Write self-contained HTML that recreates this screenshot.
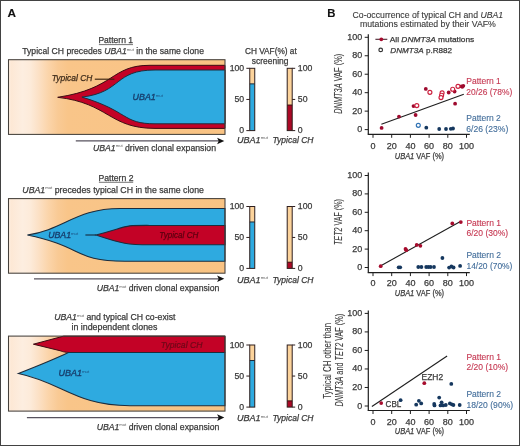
<!DOCTYPE html>
<html><head><meta charset="utf-8"><style>
html,body{margin:0;padding:0;background:#fff;width:520px;height:446px;overflow:hidden;}
svg{display:block;font-family:"Liberation Sans", sans-serif;will-change:transform;}
</style></head><body>
<svg width="520" height="446" viewBox="0 0 520 446">
<defs>
<linearGradient id="gA" gradientUnits="userSpaceOnUse" x1="8.5" y1="0" x2="225" y2="0">
<stop offset="0" stop-color="#fdf0e4"/>
<stop offset="0.012" stop-color="#fde8d5"/>
<stop offset="0.03" stop-color="#fdead9"/>
<stop offset="0.065" stop-color="#fdeee0"/>
<stop offset="0.10" stop-color="#fdebda"/>
<stop offset="0.138" stop-color="#fce1c6"/>
<stop offset="0.182" stop-color="#fbd5ab"/>
<stop offset="0.228" stop-color="#f9ca95"/>
<stop offset="0.275" stop-color="#f9c589"/>
<stop offset="1" stop-color="#f9c383"/>
</linearGradient>
</defs>
<rect x="0" y="0" width="520" height="446" fill="#fff"/>
<rect x="0.5" y="0.5" width="519" height="445" fill="none" stroke="#424242" stroke-width="1"/>
<text x="7.40" y="17.0" font-size="11.6" fill="#111" stroke="#111" stroke-width="0.1" font-style="normal" font-weight="bold" textLength="8.50" lengthAdjust="spacingAndGlyphs" >A</text>
<text x="98.45" y="43.3" font-size="8.6" fill="#3a3a3a" stroke="#3a3a3a" stroke-width="0.25" font-style="normal" font-weight="normal" textLength="34.60" lengthAdjust="spacingAndGlyphs" >Pattern 1</text>
<line x1="98.9" y1="44.6" x2="133" y2="44.6" stroke="#3a3a3a" stroke-width="0.7"/>
<text x="22.25" y="54.2" font-size="9.0" fill="#3a3a3a" stroke="#3a3a3a" stroke-width="0.25" font-style="normal" font-weight="normal" textLength="181.70" lengthAdjust="spacingAndGlyphs" >Typical CH precedes <tspan font-style="italic">UBA1</tspan><tspan font-size="4.4" dy="-3.6" stroke-width="0" opacity="0.85">mut</tspan><tspan dy="3.6"> in the same clone</tspan></text>
<rect x="8.5" y="59.7" width="216.5" height="74.7" fill="url(#gA)"/>
<path d="M57.7,97.3 C115.8,88.5 110.4,65.3 150,65.3 L225.0,65.3 L225.0,128.4 L155,128.4 C108.9,128.4 109.2,103.2 57.7,97.3 Z" fill="#c30226" stroke="#3c0c12" stroke-width="1.0"/>
<path d="M81.9,97.1 C122.6,92.2 113.7,70.0 155,70.0 L225.0,70.0 L225.0,123.8 L155,123.8 C122.2,123.8 128.8,111.1 81.9,97.1 Z" fill="#2eaae0" stroke="#1e2c3c" stroke-width="1.0"/>
<rect x="8.5" y="59.7" width="216.5" height="74.7" fill="none" stroke="#45403b" stroke-width="1.05"/>
<text x="51.75" y="81.2" font-size="8.7" fill="#3d2b1a" stroke="#3d2b1a" stroke-width="0.25" font-style="italic" font-weight="normal" textLength="40.60" lengthAdjust="spacingAndGlyphs" >Typical CH</text>
<line x1="94.8" y1="79.2" x2="114.4" y2="79.2" stroke="#3a2410" stroke-width="1.15"/>
<text x="132.55" y="100" font-size="8.6" fill="#173f6e" stroke="#173f6e" stroke-width="0.35" font-style="normal" font-weight="normal" textLength="30.40" lengthAdjust="spacingAndGlyphs" ><tspan font-style="italic">UBA1</tspan><tspan font-size="4.2" dy="-3.4" stroke-width="0" opacity="0.85">mut</tspan></text>
<line x1="75.8" y1="140.95" x2="219.3" y2="140.95" stroke="#57525e" stroke-width="1.3"/>
<path d="M217.10000000000002,137.64999999999998 L224.3,140.95 L217.10000000000002,144.25 L218.70000000000002,140.95 Z" fill="#111"/>
<text x="92.95" y="150.7" font-size="8.8" fill="#3a3a3a" stroke="#3a3a3a" stroke-width="0.25" font-style="normal" font-weight="normal" textLength="123.10" lengthAdjust="spacingAndGlyphs" ><tspan font-style="italic">UBA1</tspan><tspan font-size="4.2" dy="-3.4" stroke-width="0" opacity="0.85">mut</tspan><tspan dy="3.4"> driven clonal expansion</tspan></text>
<text x="244.95" y="53.6" font-size="8.8" fill="#3a3a3a" stroke="#3a3a3a" stroke-width="0.25" font-style="normal" font-weight="normal" textLength="51.80" lengthAdjust="spacingAndGlyphs" >CH VAF(%) at</text>
<text x="251.85" y="63.5" font-size="8.8" fill="#3a3a3a" stroke="#3a3a3a" stroke-width="0.25" font-style="normal" font-weight="normal" textLength="36.60" lengthAdjust="spacingAndGlyphs" >screening</text>
<rect x="249.75" y="68.3" width="5.0" height="62.3" fill="#fcd39b"/>
<rect x="249.75" y="83.875" width="5.0" height="46.724999999999994" fill="#2eaae0"/>
<line x1="249.75" y1="83.875" x2="254.75" y2="83.875" stroke="#1e2c3c" stroke-width="1.0"/>
<rect x="249.75" y="68.3" width="5.0" height="62.3" fill="none" stroke="#2e1e1e" stroke-width="1"/>
<line x1="246.35" y1="68.3" x2="249.75" y2="68.3" stroke="#2e1e1e" stroke-width="1"/>
<text x="244.15" y="70.90" font-size="8.7" text-anchor="end" fill="#3a3a3a" stroke="#3a3a3a" stroke-width="0.25" font-style="normal" font-weight="normal" >100</text>
<line x1="246.35" y1="99.44999999999999" x2="249.75" y2="99.44999999999999" stroke="#2e1e1e" stroke-width="1"/>
<text x="244.15" y="102.05" font-size="8.7" text-anchor="end" fill="#3a3a3a" stroke="#3a3a3a" stroke-width="0.25" font-style="normal" font-weight="normal" >50</text>
<line x1="246.35" y1="130.6" x2="249.75" y2="130.6" stroke="#2e1e1e" stroke-width="1"/>
<text x="244.15" y="133.20" font-size="8.7" text-anchor="end" fill="#3a3a3a" stroke="#3a3a3a" stroke-width="0.25" font-style="normal" font-weight="normal" >0</text>
<rect x="287.2" y="68.3" width="5.0" height="62.3" fill="#fcd39b"/>
<rect x="287.2" y="105.057" width="5.0" height="25.542999999999992" fill="#ab0826"/>
<line x1="287.2" y1="105.057" x2="292.2" y2="105.057" stroke="#3c0c12" stroke-width="1.0"/>
<rect x="287.2" y="68.3" width="5.0" height="62.3" fill="none" stroke="#2e1e1e" stroke-width="1"/>
<line x1="292.2" y1="68.3" x2="295.2" y2="68.3" stroke="#2e1e1e" stroke-width="1"/>
<text x="297.8" y="70.90" font-size="8.7" text-anchor="start" fill="#3a3a3a" stroke="#3a3a3a" stroke-width="0.25" font-style="normal" font-weight="normal" >100</text>
<line x1="292.2" y1="99.44999999999999" x2="295.2" y2="99.44999999999999" stroke="#2e1e1e" stroke-width="1"/>
<text x="297.8" y="102.05" font-size="8.7" text-anchor="start" fill="#3a3a3a" stroke="#3a3a3a" stroke-width="0.25" font-style="normal" font-weight="normal" >50</text>
<line x1="292.2" y1="130.6" x2="295.2" y2="130.6" stroke="#2e1e1e" stroke-width="1"/>
<text x="297.8" y="133.20" font-size="8.7" text-anchor="start" fill="#3a3a3a" stroke="#3a3a3a" stroke-width="0.25" font-style="normal" font-weight="normal" >0</text>
<text x="236.95" y="142.6" font-size="8.8" fill="#3a3a3a" stroke="#3a3a3a" stroke-width="0.25" font-style="normal" font-weight="normal" textLength="30.90" lengthAdjust="spacingAndGlyphs" ><tspan font-style="italic">UBA1</tspan><tspan font-size="4.2" dy="-3.4" stroke-width="0" opacity="0.85">mut</tspan></text>
<text x="272.45" y="142.6" font-size="8.8" fill="#3a3a3a" stroke="#3a3a3a" stroke-width="0.25" font-style="italic" font-weight="normal" textLength="41.10" lengthAdjust="spacingAndGlyphs" >Typical CH</text>
<rect x="249.75" y="206.5" width="5.0" height="61.89999999999998" fill="#fcd39b"/>
<rect x="249.75" y="221.975" width="5.0" height="46.42499999999998" fill="#2eaae0"/>
<line x1="249.75" y1="221.975" x2="254.75" y2="221.975" stroke="#1e2c3c" stroke-width="1.0"/>
<rect x="249.75" y="206.5" width="5.0" height="61.89999999999998" fill="none" stroke="#2e1e1e" stroke-width="1"/>
<line x1="246.35" y1="206.5" x2="249.75" y2="206.5" stroke="#2e1e1e" stroke-width="1"/>
<text x="244.15" y="209.10" font-size="8.7" text-anchor="end" fill="#3a3a3a" stroke="#3a3a3a" stroke-width="0.25" font-style="normal" font-weight="normal" >100</text>
<line x1="246.35" y1="237.45" x2="249.75" y2="237.45" stroke="#2e1e1e" stroke-width="1"/>
<text x="244.15" y="240.05" font-size="8.7" text-anchor="end" fill="#3a3a3a" stroke="#3a3a3a" stroke-width="0.25" font-style="normal" font-weight="normal" >50</text>
<line x1="246.35" y1="268.4" x2="249.75" y2="268.4" stroke="#2e1e1e" stroke-width="1"/>
<text x="244.15" y="271.00" font-size="8.7" text-anchor="end" fill="#3a3a3a" stroke="#3a3a3a" stroke-width="0.25" font-style="normal" font-weight="normal" >0</text>
<rect x="287.2" y="206.5" width="5.0" height="61.89999999999998" fill="#fcd39b"/>
<rect x="287.2" y="262.21" width="5.0" height="6.189999999999998" fill="#ab0826"/>
<line x1="287.2" y1="262.21" x2="292.2" y2="262.21" stroke="#3c0c12" stroke-width="1.0"/>
<rect x="287.2" y="206.5" width="5.0" height="61.89999999999998" fill="none" stroke="#2e1e1e" stroke-width="1"/>
<line x1="292.2" y1="206.5" x2="295.2" y2="206.5" stroke="#2e1e1e" stroke-width="1"/>
<text x="297.8" y="209.10" font-size="8.7" text-anchor="start" fill="#3a3a3a" stroke="#3a3a3a" stroke-width="0.25" font-style="normal" font-weight="normal" >100</text>
<line x1="292.2" y1="237.45" x2="295.2" y2="237.45" stroke="#2e1e1e" stroke-width="1"/>
<text x="297.8" y="240.05" font-size="8.7" text-anchor="start" fill="#3a3a3a" stroke="#3a3a3a" stroke-width="0.25" font-style="normal" font-weight="normal" >50</text>
<line x1="292.2" y1="268.4" x2="295.2" y2="268.4" stroke="#2e1e1e" stroke-width="1"/>
<text x="297.8" y="271.00" font-size="8.7" text-anchor="start" fill="#3a3a3a" stroke="#3a3a3a" stroke-width="0.25" font-style="normal" font-weight="normal" >0</text>
<text x="236.95" y="282.6" font-size="8.8" fill="#3a3a3a" stroke="#3a3a3a" stroke-width="0.25" font-style="normal" font-weight="normal" textLength="30.90" lengthAdjust="spacingAndGlyphs" ><tspan font-style="italic">UBA1</tspan><tspan font-size="4.2" dy="-3.4" stroke-width="0" opacity="0.85">mut</tspan></text>
<text x="272.45" y="282.6" font-size="8.8" fill="#3a3a3a" stroke="#3a3a3a" stroke-width="0.25" font-style="italic" font-weight="normal" textLength="41.10" lengthAdjust="spacingAndGlyphs" >Typical CH</text>
<rect x="249.75" y="345.0" width="5.0" height="62.10000000000002" fill="#fcd39b"/>
<rect x="249.75" y="360.525" width="5.0" height="46.575000000000045" fill="#2eaae0"/>
<line x1="249.75" y1="360.525" x2="254.75" y2="360.525" stroke="#1e2c3c" stroke-width="1.0"/>
<rect x="249.75" y="345.0" width="5.0" height="62.10000000000002" fill="none" stroke="#2e1e1e" stroke-width="1"/>
<line x1="246.35" y1="345.0" x2="249.75" y2="345.0" stroke="#2e1e1e" stroke-width="1"/>
<text x="244.15" y="347.60" font-size="8.7" text-anchor="end" fill="#3a3a3a" stroke="#3a3a3a" stroke-width="0.25" font-style="normal" font-weight="normal" >100</text>
<line x1="246.35" y1="376.05" x2="249.75" y2="376.05" stroke="#2e1e1e" stroke-width="1"/>
<text x="244.15" y="378.65" font-size="8.7" text-anchor="end" fill="#3a3a3a" stroke="#3a3a3a" stroke-width="0.25" font-style="normal" font-weight="normal" >50</text>
<line x1="246.35" y1="407.1" x2="249.75" y2="407.1" stroke="#2e1e1e" stroke-width="1"/>
<text x="244.15" y="409.70" font-size="8.7" text-anchor="end" fill="#3a3a3a" stroke="#3a3a3a" stroke-width="0.25" font-style="normal" font-weight="normal" >0</text>
<rect x="287.2" y="345.0" width="5.0" height="62.10000000000002" fill="#fcd39b"/>
<rect x="287.2" y="400.89000000000004" width="5.0" height="6.2099999999999795" fill="#ab0826"/>
<line x1="287.2" y1="400.89000000000004" x2="292.2" y2="400.89000000000004" stroke="#3c0c12" stroke-width="1.0"/>
<rect x="287.2" y="345.0" width="5.0" height="62.10000000000002" fill="none" stroke="#2e1e1e" stroke-width="1"/>
<line x1="292.2" y1="345.0" x2="295.2" y2="345.0" stroke="#2e1e1e" stroke-width="1"/>
<text x="297.8" y="347.60" font-size="8.7" text-anchor="start" fill="#3a3a3a" stroke="#3a3a3a" stroke-width="0.25" font-style="normal" font-weight="normal" >100</text>
<line x1="292.2" y1="376.05" x2="295.2" y2="376.05" stroke="#2e1e1e" stroke-width="1"/>
<text x="297.8" y="378.65" font-size="8.7" text-anchor="start" fill="#3a3a3a" stroke="#3a3a3a" stroke-width="0.25" font-style="normal" font-weight="normal" >50</text>
<line x1="292.2" y1="407.1" x2="295.2" y2="407.1" stroke="#2e1e1e" stroke-width="1"/>
<text x="297.8" y="409.70" font-size="8.7" text-anchor="start" fill="#3a3a3a" stroke="#3a3a3a" stroke-width="0.25" font-style="normal" font-weight="normal" >0</text>
<text x="236.95" y="421.4" font-size="8.8" fill="#3a3a3a" stroke="#3a3a3a" stroke-width="0.25" font-style="normal" font-weight="normal" textLength="30.90" lengthAdjust="spacingAndGlyphs" ><tspan font-style="italic">UBA1</tspan><tspan font-size="4.2" dy="-3.4" stroke-width="0" opacity="0.85">mut</tspan></text>
<text x="272.45" y="421.4" font-size="8.8" fill="#3a3a3a" stroke="#3a3a3a" stroke-width="0.25" font-style="italic" font-weight="normal" textLength="41.10" lengthAdjust="spacingAndGlyphs" >Typical CH</text>
<text x="98.45" y="181.1" font-size="8.6" fill="#3a3a3a" stroke="#3a3a3a" stroke-width="0.25" font-style="normal" font-weight="normal" textLength="35.00" lengthAdjust="spacingAndGlyphs" >Pattern 2</text>
<line x1="98.9" y1="182.3" x2="133.2" y2="182.3" stroke="#3a3a3a" stroke-width="0.7"/>
<text x="22.35" y="192.6" font-size="9.0" fill="#3a3a3a" stroke="#3a3a3a" stroke-width="0.25" font-style="normal" font-weight="normal" textLength="181.60" lengthAdjust="spacingAndGlyphs" ><tspan font-style="italic">UBA1</tspan><tspan font-size="4.4" dy="-3.6" stroke-width="0" opacity="0.85">mut</tspan><tspan dy="3.6"> precedes typical CH in the same clone</tspan></text>
<rect x="8.5" y="198.6" width="216.5" height="74.6" fill="url(#gA)"/>
<path d="M27.4,235.1 C64.4,229.3 76.0,208.5 120,208.5 L225.0,208.5 L225.0,261.3 L125,261.3 C73.7,261.3 84.2,246.9 27.4,235.1 Z" fill="#2eaae0" stroke="#1e2c3c" stroke-width="1.05"/>
<path d="M96,235.1 C132.9,225 121.8,225.4 150,225.4 L225.0,225.4 L225.0,244.8 L150,244.8 C128.6,244.8 122.0,244 96,235.1 Z" fill="#c30226" stroke="#1e2c3c" stroke-width="1.05"/>
<line x1="85.4" y1="235" x2="96" y2="235" stroke="#14283c" stroke-width="1.1"/>
<rect x="8.5" y="198.6" width="216.5" height="74.6" fill="none" stroke="#45403b" stroke-width="1.05"/>
<text x="48.15" y="237.9" font-size="8.6" fill="#173f6e" stroke="#173f6e" stroke-width="0.35" font-style="normal" font-weight="normal" textLength="30.00" lengthAdjust="spacingAndGlyphs" ><tspan font-style="italic">UBA1</tspan><tspan font-size="4.2" dy="-3.4" stroke-width="0" opacity="0.85">mut</tspan></text>
<text x="159.35" y="238.1" font-size="8.6" fill="#5c0010" stroke="#5c0010" stroke-width="0.25" font-style="italic" font-weight="normal" textLength="39.00" lengthAdjust="spacingAndGlyphs" >Typical CH</text>
<line x1="34.0" y1="278.8" x2="219.3" y2="278.8" stroke="#57525e" stroke-width="1.3"/>
<path d="M217.10000000000002,275.5 L224.3,278.8 L217.10000000000002,282.1 L218.70000000000002,278.8 Z" fill="#111"/>
<text x="96.65" y="291.4" font-size="8.8" fill="#3a3a3a" stroke="#3a3a3a" stroke-width="0.25" font-style="normal" font-weight="normal" textLength="122.80" lengthAdjust="spacingAndGlyphs" ><tspan font-style="italic">UBA1</tspan><tspan font-size="4.2" dy="-3.4" stroke-width="0" opacity="0.85">mut</tspan><tspan dy="3.4"> driven clonal expansion</tspan></text>
<text x="54.15" y="320.1" font-size="9.0" fill="#3a3a3a" stroke="#3a3a3a" stroke-width="0.25" font-style="normal" font-weight="normal" textLength="121.30" lengthAdjust="spacingAndGlyphs" ><tspan font-style="italic">UBA1</tspan><tspan font-size="4.4" dy="-3.6" stroke-width="0" opacity="0.85">mut</tspan><tspan dy="3.6"> and typical CH co-exist</tspan></text>
<text x="71.45" y="329.9" font-size="9.0" fill="#3a3a3a" stroke="#3a3a3a" stroke-width="0.25" font-style="normal" font-weight="normal" textLength="86.00" lengthAdjust="spacingAndGlyphs" >in independent clones</text>
<rect x="8.5" y="336.1" width="216.5" height="75.0" fill="url(#gA)"/>
<path d="M33.4,344.2 L63.7,336.1 L225.0,336.1 L225.0,352.5 L70,352.5 C64,352.3 62,351.4 60,350.7 L33.4,344.2 Z" fill="#c30226" stroke="#3c0c12" stroke-width="1.0"/>
<path d="M18.4,373.5 C35,367 55,359 68.4,352.5 L225.0,352.5 L225.0,405.7 L130,405.7 C75.8,405.7 63.0,382.9 18.4,373.5 Z" fill="#2eaae0" stroke="#1e2c3c" stroke-width="1.05"/>
<rect x="8.5" y="336.1" width="216.5" height="75.0" fill="none" stroke="#45403b" stroke-width="1.05"/>
<text x="58.45" y="376" font-size="8.6" fill="#173f6e" stroke="#173f6e" stroke-width="0.35" font-style="normal" font-weight="normal" textLength="30.80" lengthAdjust="spacingAndGlyphs" ><tspan font-style="italic">UBA1</tspan><tspan font-size="4.2" dy="-3.4" stroke-width="0" opacity="0.85">mut</tspan></text>
<text x="160.85" y="347.6" font-size="8.6" fill="#6e0818" stroke="#6e0818" stroke-width="0.2" font-style="italic" font-weight="normal" textLength="41.60" lengthAdjust="spacingAndGlyphs" >Typical CH</text>
<line x1="26.9" y1="417.6" x2="219.3" y2="417.6" stroke="#57525e" stroke-width="1.3"/>
<path d="M217.10000000000002,414.3 L224.3,417.6 L217.10000000000002,420.90000000000003 L218.70000000000002,417.6 Z" fill="#111"/>
<text x="96.65" y="429.8" font-size="8.8" fill="#3a3a3a" stroke="#3a3a3a" stroke-width="0.25" font-style="normal" font-weight="normal" textLength="122.80" lengthAdjust="spacingAndGlyphs" ><tspan font-style="italic">UBA1</tspan><tspan font-size="4.2" dy="-3.4" stroke-width="0" opacity="0.85">mut</tspan><tspan dy="3.4"> driven clonal expansion</tspan></text>
<text x="327.30" y="17.4" font-size="11.6" fill="#111" stroke="#111" stroke-width="0.1" font-style="normal" font-weight="bold" textLength="8.20" lengthAdjust="spacingAndGlyphs" >B</text>
<text x="352.55" y="17.7" font-size="8.8" fill="#3a3a3a" stroke="#3a3a3a" stroke-width="0.12" font-style="normal" font-weight="normal" textLength="150.60" lengthAdjust="spacingAndGlyphs" >Co-occurrence of typical CH and <tspan font-style="italic">UBA1</tspan></text>
<text x="359.95" y="27.0" font-size="8.8" fill="#3a3a3a" stroke="#3a3a3a" stroke-width="0.12" font-style="normal" font-weight="normal" textLength="135.90" lengthAdjust="spacingAndGlyphs" >mutations estimated by their VAF%</text>
<line x1="368.3" y1="34.2" x2="368.3" y2="134.3" stroke="#1e1e1e" stroke-width="1.2"/>
<line x1="367.7" y1="134.3" x2="469.8" y2="134.3" stroke="#1e1e1e" stroke-width="1.2"/>
<line x1="364.7" y1="129.60" x2="368.3" y2="129.60" stroke="#1e1e1e" stroke-width="1"/>
<text x="362.3" y="132.10" font-size="9.0" text-anchor="end" fill="#3a3a3a" stroke="#3a3a3a" stroke-width="0.25" font-style="normal" font-weight="normal" >0</text>
<line x1="373.00" y1="134.3" x2="373.00" y2="137.8" stroke="#1e1e1e" stroke-width="1"/>
<text x="373.00" y="148.60" font-size="9.0" text-anchor="middle" fill="#3a3a3a" stroke="#3a3a3a" stroke-width="0.25" font-style="normal" font-weight="normal" >0</text>
<line x1="364.7" y1="111.14" x2="368.3" y2="111.14" stroke="#1e1e1e" stroke-width="1"/>
<text x="362.3" y="113.64" font-size="9.0" text-anchor="end" fill="#3a3a3a" stroke="#3a3a3a" stroke-width="0.25" font-style="normal" font-weight="normal" >20</text>
<line x1="391.70" y1="134.3" x2="391.70" y2="137.8" stroke="#1e1e1e" stroke-width="1"/>
<text x="391.70" y="148.60" font-size="9.0" text-anchor="middle" fill="#3a3a3a" stroke="#3a3a3a" stroke-width="0.25" font-style="normal" font-weight="normal" >20</text>
<line x1="364.7" y1="92.68" x2="368.3" y2="92.68" stroke="#1e1e1e" stroke-width="1"/>
<text x="362.3" y="95.18" font-size="9.0" text-anchor="end" fill="#3a3a3a" stroke="#3a3a3a" stroke-width="0.25" font-style="normal" font-weight="normal" >40</text>
<line x1="410.40" y1="134.3" x2="410.40" y2="137.8" stroke="#1e1e1e" stroke-width="1"/>
<text x="410.40" y="148.60" font-size="9.0" text-anchor="middle" fill="#3a3a3a" stroke="#3a3a3a" stroke-width="0.25" font-style="normal" font-weight="normal" >40</text>
<line x1="364.7" y1="74.22" x2="368.3" y2="74.22" stroke="#1e1e1e" stroke-width="1"/>
<text x="362.3" y="76.72" font-size="9.0" text-anchor="end" fill="#3a3a3a" stroke="#3a3a3a" stroke-width="0.25" font-style="normal" font-weight="normal" >60</text>
<line x1="429.10" y1="134.3" x2="429.10" y2="137.8" stroke="#1e1e1e" stroke-width="1"/>
<text x="429.10" y="148.60" font-size="9.0" text-anchor="middle" fill="#3a3a3a" stroke="#3a3a3a" stroke-width="0.25" font-style="normal" font-weight="normal" >60</text>
<line x1="364.7" y1="55.76" x2="368.3" y2="55.76" stroke="#1e1e1e" stroke-width="1"/>
<text x="362.3" y="58.26" font-size="9.0" text-anchor="end" fill="#3a3a3a" stroke="#3a3a3a" stroke-width="0.25" font-style="normal" font-weight="normal" >80</text>
<line x1="447.80" y1="134.3" x2="447.80" y2="137.8" stroke="#1e1e1e" stroke-width="1"/>
<text x="447.80" y="148.60" font-size="9.0" text-anchor="middle" fill="#3a3a3a" stroke="#3a3a3a" stroke-width="0.25" font-style="normal" font-weight="normal" >80</text>
<line x1="364.7" y1="37.30" x2="368.3" y2="37.30" stroke="#1e1e1e" stroke-width="1"/>
<text x="362.3" y="39.80" font-size="9.0" text-anchor="end" fill="#3a3a3a" stroke="#3a3a3a" stroke-width="0.25" font-style="normal" font-weight="normal" >100</text>
<line x1="466.50" y1="134.3" x2="466.50" y2="137.8" stroke="#1e1e1e" stroke-width="1"/>
<text x="466.50" y="148.60" font-size="9.0" text-anchor="middle" fill="#3a3a3a" stroke="#3a3a3a" stroke-width="0.25" font-style="normal" font-weight="normal" >100</text>
<line x1="381.4" y1="124.3" x2="463.8" y2="94.3" stroke="#1e1e1e" stroke-width="1.1"/>
<circle cx="381.6" cy="127.9" r="1.9" fill="#9e0a2e"/>
<circle cx="399" cy="116.6" r="1.9" fill="#9e0a2e"/>
<circle cx="413.5" cy="106.1" r="1.9" fill="#9e0a2e"/>
<circle cx="415.6" cy="115" r="1.9" fill="#9e0a2e"/>
<circle cx="425.8" cy="88.9" r="1.9" fill="#9e0a2e"/>
<circle cx="448.7" cy="92.5" r="1.9" fill="#9e0a2e"/>
<circle cx="454.6" cy="91.5" r="1.9" fill="#9e0a2e"/>
<circle cx="455.1" cy="103.7" r="1.9" fill="#9e0a2e"/>
<circle cx="461.3" cy="86.3" r="1.9" fill="#9e0a2e"/>
<circle cx="463.3" cy="85.8" r="1.9" fill="#9e0a2e"/>
<circle cx="462.3" cy="86.8" r="1.9" fill="#9e0a2e"/>
<circle cx="416.8" cy="105.6" r="2.0" fill="#fff" stroke="#cc1f3d" stroke-width="1.15"/>
<circle cx="429.9" cy="92.3" r="2.0" fill="#fff" stroke="#cc1f3d" stroke-width="1.15"/>
<circle cx="442.1" cy="92.8" r="2.0" fill="#fff" stroke="#cc1f3d" stroke-width="1.15"/>
<circle cx="441.6" cy="95.2" r="2.0" fill="#fff" stroke="#cc1f3d" stroke-width="1.15"/>
<circle cx="441" cy="97.6" r="2.0" fill="#fff" stroke="#cc1f3d" stroke-width="1.15"/>
<circle cx="452.7" cy="89.2" r="2.0" fill="#fff" stroke="#cc1f3d" stroke-width="1.15"/>
<circle cx="458" cy="86.3" r="2.0" fill="#fff" stroke="#cc1f3d" stroke-width="1.15"/>
<circle cx="418.3" cy="125.3" r="2.0" fill="#fff" stroke="#2f72b4" stroke-width="1.15"/>
<circle cx="426.3" cy="127.7" r="1.9" fill="#15375e"/>
<circle cx="439.2" cy="129" r="1.9" fill="#15375e"/>
<circle cx="446" cy="129" r="1.9" fill="#15375e"/>
<circle cx="450.8" cy="128.8" r="1.9" fill="#15375e"/>
<circle cx="453" cy="128.5" r="1.9" fill="#15375e"/>
<line x1="375.4" y1="39.3" x2="387.3" y2="39.3" stroke="#4a2530" stroke-width="1.1"/>
<circle cx="381.3" cy="39.3" r="1.9" fill="#a60c2d"/>
<text x="389.75" y="42" font-size="8.0" fill="#3a3a3a" stroke="#3a3a3a" stroke-width="0.25" font-style="normal" font-weight="normal" textLength="84.50" lengthAdjust="spacingAndGlyphs" >All <tspan font-style="italic">DNMT3A</tspan> mutations</text>
<circle cx="380.7" cy="49.9" r="1.8" fill="#fff" stroke="#333" stroke-width="1.2"/>
<text x="390.35" y="52.6" font-size="8.0" fill="#3a3a3a" stroke="#3a3a3a" stroke-width="0.25" font-style="normal" font-weight="normal" textLength="61.80" lengthAdjust="spacingAndGlyphs" ><tspan font-style="italic">DNMT3A</tspan> p.R882</text>
<text x="466.25" y="84.2" font-size="8.6" fill="#c63852" stroke="#c63852" stroke-width="0.12" font-style="normal" font-weight="normal" textLength="34.60" lengthAdjust="spacingAndGlyphs" >Pattern 1</text>
<text x="466.25" y="94.5" font-size="8.6" fill="#c63852" stroke="#c63852" stroke-width="0.12" font-style="normal" font-weight="normal" textLength="46.00" lengthAdjust="spacingAndGlyphs" >20/26 (78%)</text>
<text x="466.25" y="121.4" font-size="8.6" fill="#436e9b" stroke="#436e9b" stroke-width="0.12" font-style="normal" font-weight="normal" textLength="34.60" lengthAdjust="spacingAndGlyphs" >Pattern 2</text>
<text x="466.25" y="131.5" font-size="8.6" fill="#436e9b" stroke="#436e9b" stroke-width="0.12" font-style="normal" font-weight="normal" textLength="42.00" lengthAdjust="spacingAndGlyphs" >6/26 (23%)</text>
<text x="394.75" y="158.8" font-size="9.0" fill="#3a3a3a" stroke="#3a3a3a" stroke-width="0.25" font-style="normal" font-weight="normal" textLength="49.30" lengthAdjust="spacingAndGlyphs" ><tspan font-style="italic">UBA1</tspan> VAF (%)</text>
<text x="0" y="0" font-size="10.8" text-anchor="middle" fill="#3a3a3a" stroke="#3a3a3a" stroke-width="0.1" font-style="normal" textLength="60.00" lengthAdjust="spacingAndGlyphs" transform="translate(341.9,83.8) rotate(-90)"><tspan font-style="italic">DNMT3A</tspan> VAF (%)</text>
<line x1="368.3" y1="172.4" x2="368.3" y2="272.6" stroke="#1e1e1e" stroke-width="1.2"/>
<line x1="367.7" y1="272.6" x2="469.8" y2="272.6" stroke="#1e1e1e" stroke-width="1.2"/>
<line x1="364.7" y1="267.50" x2="368.3" y2="267.50" stroke="#1e1e1e" stroke-width="1"/>
<text x="362.3" y="270.00" font-size="9.0" text-anchor="end" fill="#3a3a3a" stroke="#3a3a3a" stroke-width="0.25" font-style="normal" font-weight="normal" >0</text>
<line x1="373.00" y1="272.6" x2="373.00" y2="276.1" stroke="#1e1e1e" stroke-width="1"/>
<text x="373.00" y="286.20" font-size="9.0" text-anchor="middle" fill="#3a3a3a" stroke="#3a3a3a" stroke-width="0.25" font-style="normal" font-weight="normal" >0</text>
<line x1="364.7" y1="249.10" x2="368.3" y2="249.10" stroke="#1e1e1e" stroke-width="1"/>
<text x="362.3" y="251.60" font-size="9.0" text-anchor="end" fill="#3a3a3a" stroke="#3a3a3a" stroke-width="0.25" font-style="normal" font-weight="normal" >20</text>
<line x1="391.70" y1="272.6" x2="391.70" y2="276.1" stroke="#1e1e1e" stroke-width="1"/>
<text x="391.70" y="286.20" font-size="9.0" text-anchor="middle" fill="#3a3a3a" stroke="#3a3a3a" stroke-width="0.25" font-style="normal" font-weight="normal" >20</text>
<line x1="364.7" y1="230.70" x2="368.3" y2="230.70" stroke="#1e1e1e" stroke-width="1"/>
<text x="362.3" y="233.20" font-size="9.0" text-anchor="end" fill="#3a3a3a" stroke="#3a3a3a" stroke-width="0.25" font-style="normal" font-weight="normal" >40</text>
<line x1="410.40" y1="272.6" x2="410.40" y2="276.1" stroke="#1e1e1e" stroke-width="1"/>
<text x="410.40" y="286.20" font-size="9.0" text-anchor="middle" fill="#3a3a3a" stroke="#3a3a3a" stroke-width="0.25" font-style="normal" font-weight="normal" >40</text>
<line x1="364.7" y1="212.30" x2="368.3" y2="212.30" stroke="#1e1e1e" stroke-width="1"/>
<text x="362.3" y="214.80" font-size="9.0" text-anchor="end" fill="#3a3a3a" stroke="#3a3a3a" stroke-width="0.25" font-style="normal" font-weight="normal" >60</text>
<line x1="429.10" y1="272.6" x2="429.10" y2="276.1" stroke="#1e1e1e" stroke-width="1"/>
<text x="429.10" y="286.20" font-size="9.0" text-anchor="middle" fill="#3a3a3a" stroke="#3a3a3a" stroke-width="0.25" font-style="normal" font-weight="normal" >60</text>
<line x1="364.7" y1="193.90" x2="368.3" y2="193.90" stroke="#1e1e1e" stroke-width="1"/>
<text x="362.3" y="196.40" font-size="9.0" text-anchor="end" fill="#3a3a3a" stroke="#3a3a3a" stroke-width="0.25" font-style="normal" font-weight="normal" >80</text>
<line x1="447.80" y1="272.6" x2="447.80" y2="276.1" stroke="#1e1e1e" stroke-width="1"/>
<text x="447.80" y="286.20" font-size="9.0" text-anchor="middle" fill="#3a3a3a" stroke="#3a3a3a" stroke-width="0.25" font-style="normal" font-weight="normal" >80</text>
<line x1="364.7" y1="175.50" x2="368.3" y2="175.50" stroke="#1e1e1e" stroke-width="1"/>
<text x="362.3" y="178.00" font-size="9.0" text-anchor="end" fill="#3a3a3a" stroke="#3a3a3a" stroke-width="0.25" font-style="normal" font-weight="normal" >100</text>
<line x1="466.50" y1="272.6" x2="466.50" y2="276.1" stroke="#1e1e1e" stroke-width="1"/>
<text x="466.50" y="286.20" font-size="9.0" text-anchor="middle" fill="#3a3a3a" stroke="#3a3a3a" stroke-width="0.25" font-style="normal" font-weight="normal" >100</text>
<line x1="381.3" y1="265.5" x2="459.5" y2="221.9" stroke="#1e1e1e" stroke-width="1.1"/>
<circle cx="380.7" cy="266.2" r="1.9" fill="#a60c2d"/>
<circle cx="405.5" cy="249.0" r="1.9" fill="#a60c2d"/>
<circle cx="406.3" cy="250.2" r="1.9" fill="#a60c2d"/>
<circle cx="416.7" cy="244.9" r="1.9" fill="#a60c2d"/>
<circle cx="420.4" cy="245.8" r="1.9" fill="#a60c2d"/>
<circle cx="452.3" cy="223.4" r="1.9" fill="#a60c2d"/>
<circle cx="460.8" cy="222.1" r="1.9" fill="#a60c2d"/>
<circle cx="398.7" cy="267.3" r="1.9" fill="#15375e"/>
<circle cx="400.2" cy="267.3" r="1.9" fill="#15375e"/>
<circle cx="418.3" cy="267" r="1.9" fill="#15375e"/>
<circle cx="421.4" cy="267" r="1.9" fill="#15375e"/>
<circle cx="426.2" cy="267" r="1.9" fill="#15375e"/>
<circle cx="428.4" cy="267" r="1.9" fill="#15375e"/>
<circle cx="430.6" cy="267" r="1.9" fill="#15375e"/>
<circle cx="434" cy="267" r="1.9" fill="#15375e"/>
<circle cx="442.4" cy="258" r="1.9" fill="#15375e"/>
<circle cx="449.1" cy="267.6" r="1.9" fill="#15375e"/>
<circle cx="451.4" cy="266.5" r="1.9" fill="#15375e"/>
<circle cx="453.6" cy="267.5" r="1.9" fill="#15375e"/>
<circle cx="460.1" cy="265.9" r="1.9" fill="#15375e"/>
<text x="466.45" y="225.8" font-size="8.6" fill="#c63852" stroke="#c63852" stroke-width="0.12" font-style="normal" font-weight="normal" textLength="34.60" lengthAdjust="spacingAndGlyphs" >Pattern 1</text>
<text x="466.45" y="235.5" font-size="8.6" fill="#c63852" stroke="#c63852" stroke-width="0.12" font-style="normal" font-weight="normal" textLength="41.70" lengthAdjust="spacingAndGlyphs" >6/20 (30%)</text>
<text x="466.45" y="258.0" font-size="8.6" fill="#436e9b" stroke="#436e9b" stroke-width="0.12" font-style="normal" font-weight="normal" textLength="34.60" lengthAdjust="spacingAndGlyphs" >Pattern 2</text>
<text x="466.45" y="268.5" font-size="8.6" fill="#436e9b" stroke="#436e9b" stroke-width="0.12" font-style="normal" font-weight="normal" textLength="46.00" lengthAdjust="spacingAndGlyphs" >14/20 (70%)</text>
<text x="394.75" y="296.1" font-size="9.0" fill="#3a3a3a" stroke="#3a3a3a" stroke-width="0.25" font-style="normal" font-weight="normal" textLength="49.30" lengthAdjust="spacingAndGlyphs" ><tspan font-style="italic">UBA1</tspan> VAF (%)</text>
<text x="0" y="0" font-size="10.8" text-anchor="middle" fill="#3a3a3a" stroke="#3a3a3a" stroke-width="0.1" font-style="normal" textLength="46.00" lengthAdjust="spacingAndGlyphs" transform="translate(342.4,222.0) rotate(-90)"><tspan font-style="italic">TET2</tspan> VAF (%)</text>
<line x1="368.3" y1="310.5" x2="368.3" y2="410.5" stroke="#1e1e1e" stroke-width="1.2"/>
<line x1="367.7" y1="410.5" x2="469.8" y2="410.5" stroke="#1e1e1e" stroke-width="1.2"/>
<line x1="364.7" y1="406.00" x2="368.3" y2="406.00" stroke="#1e1e1e" stroke-width="1"/>
<text x="362.3" y="408.50" font-size="9.0" text-anchor="end" fill="#3a3a3a" stroke="#3a3a3a" stroke-width="0.25" font-style="normal" font-weight="normal" >0</text>
<line x1="373.00" y1="410.5" x2="373.00" y2="414.0" stroke="#1e1e1e" stroke-width="1"/>
<text x="373.00" y="424.60" font-size="9.0" text-anchor="middle" fill="#3a3a3a" stroke="#3a3a3a" stroke-width="0.25" font-style="normal" font-weight="normal" >0</text>
<line x1="364.7" y1="387.48" x2="368.3" y2="387.48" stroke="#1e1e1e" stroke-width="1"/>
<text x="362.3" y="389.98" font-size="9.0" text-anchor="end" fill="#3a3a3a" stroke="#3a3a3a" stroke-width="0.25" font-style="normal" font-weight="normal" >20</text>
<line x1="391.70" y1="410.5" x2="391.70" y2="414.0" stroke="#1e1e1e" stroke-width="1"/>
<text x="391.70" y="424.60" font-size="9.0" text-anchor="middle" fill="#3a3a3a" stroke="#3a3a3a" stroke-width="0.25" font-style="normal" font-weight="normal" >20</text>
<line x1="364.7" y1="368.96" x2="368.3" y2="368.96" stroke="#1e1e1e" stroke-width="1"/>
<text x="362.3" y="371.46" font-size="9.0" text-anchor="end" fill="#3a3a3a" stroke="#3a3a3a" stroke-width="0.25" font-style="normal" font-weight="normal" >40</text>
<line x1="410.40" y1="410.5" x2="410.40" y2="414.0" stroke="#1e1e1e" stroke-width="1"/>
<text x="410.40" y="424.60" font-size="9.0" text-anchor="middle" fill="#3a3a3a" stroke="#3a3a3a" stroke-width="0.25" font-style="normal" font-weight="normal" >40</text>
<line x1="364.7" y1="350.44" x2="368.3" y2="350.44" stroke="#1e1e1e" stroke-width="1"/>
<text x="362.3" y="352.94" font-size="9.0" text-anchor="end" fill="#3a3a3a" stroke="#3a3a3a" stroke-width="0.25" font-style="normal" font-weight="normal" >60</text>
<line x1="429.10" y1="410.5" x2="429.10" y2="414.0" stroke="#1e1e1e" stroke-width="1"/>
<text x="429.10" y="424.60" font-size="9.0" text-anchor="middle" fill="#3a3a3a" stroke="#3a3a3a" stroke-width="0.25" font-style="normal" font-weight="normal" >60</text>
<line x1="364.7" y1="331.92" x2="368.3" y2="331.92" stroke="#1e1e1e" stroke-width="1"/>
<text x="362.3" y="334.42" font-size="9.0" text-anchor="end" fill="#3a3a3a" stroke="#3a3a3a" stroke-width="0.25" font-style="normal" font-weight="normal" >80</text>
<line x1="447.80" y1="410.5" x2="447.80" y2="414.0" stroke="#1e1e1e" stroke-width="1"/>
<text x="447.80" y="424.60" font-size="9.0" text-anchor="middle" fill="#3a3a3a" stroke="#3a3a3a" stroke-width="0.25" font-style="normal" font-weight="normal" >80</text>
<line x1="364.7" y1="313.40" x2="368.3" y2="313.40" stroke="#1e1e1e" stroke-width="1"/>
<text x="362.3" y="315.90" font-size="9.0" text-anchor="end" fill="#3a3a3a" stroke="#3a3a3a" stroke-width="0.25" font-style="normal" font-weight="normal" >100</text>
<line x1="466.50" y1="410.5" x2="466.50" y2="414.0" stroke="#1e1e1e" stroke-width="1"/>
<text x="466.50" y="424.60" font-size="9.0" text-anchor="middle" fill="#3a3a3a" stroke="#3a3a3a" stroke-width="0.25" font-style="normal" font-weight="normal" >100</text>
<line x1="371.9" y1="406.5" x2="447.1" y2="356" stroke="#1e1e1e" stroke-width="1.1"/>
<circle cx="381.2" cy="403.1" r="1.9" fill="#a60c2d"/>
<circle cx="424.3" cy="383.2" r="1.9" fill="#a60c2d"/>
<circle cx="400.6" cy="400.2" r="1.9" fill="#15375e"/>
<circle cx="416.2" cy="404.7" r="1.9" fill="#15375e"/>
<circle cx="418.9" cy="400.8" r="1.9" fill="#15375e"/>
<circle cx="421.2" cy="403.4" r="1.9" fill="#15375e"/>
<circle cx="434.2" cy="403.9" r="1.9" fill="#15375e"/>
<circle cx="434.5" cy="405.4" r="1.9" fill="#15375e"/>
<circle cx="439.2" cy="397.6" r="1.9" fill="#15375e"/>
<circle cx="441.6" cy="402.3" r="1.9" fill="#15375e"/>
<circle cx="440.5" cy="405.4" r="1.9" fill="#15375e"/>
<circle cx="443.2" cy="405.4" r="1.9" fill="#15375e"/>
<circle cx="445.8" cy="405" r="1.9" fill="#15375e"/>
<circle cx="449.9" cy="403.4" r="1.9" fill="#15375e"/>
<circle cx="451.8" cy="404.3" r="1.9" fill="#15375e"/>
<circle cx="453.4" cy="405" r="1.9" fill="#15375e"/>
<circle cx="459.7" cy="405" r="1.9" fill="#15375e"/>
<circle cx="451.3" cy="383.9" r="1.9" fill="#15375e"/>
<text x="385.55" y="407.1" font-size="8.6" fill="#3a3a3a" stroke="#3a3a3a" stroke-width="0.25" font-style="normal" font-weight="normal" textLength="15.70" lengthAdjust="spacingAndGlyphs" >CBL</text>
<text x="421.55" y="379.9" font-size="8.6" fill="#3a3a3a" stroke="#3a3a3a" stroke-width="0.25" font-style="normal" font-weight="normal" textLength="21.60" lengthAdjust="spacingAndGlyphs" >EZH2</text>
<text x="466.45" y="360.3" font-size="8.6" fill="#c63852" stroke="#c63852" stroke-width="0.12" font-style="normal" font-weight="normal" textLength="34.60" lengthAdjust="spacingAndGlyphs" >Pattern 1</text>
<text x="466.45" y="370.4" font-size="8.6" fill="#c63852" stroke="#c63852" stroke-width="0.12" font-style="normal" font-weight="normal" textLength="41.70" lengthAdjust="spacingAndGlyphs" >2/20 (10%)</text>
<text x="466.45" y="397.3" font-size="8.6" fill="#436e9b" stroke="#436e9b" stroke-width="0.12" font-style="normal" font-weight="normal" textLength="34.60" lengthAdjust="spacingAndGlyphs" >Pattern 2</text>
<text x="466.45" y="407.6" font-size="8.6" fill="#436e9b" stroke="#436e9b" stroke-width="0.12" font-style="normal" font-weight="normal" textLength="46.70" lengthAdjust="spacingAndGlyphs" >18/20 (90%)</text>
<text x="394.75" y="434.4" font-size="9.0" fill="#3a3a3a" stroke="#3a3a3a" stroke-width="0.25" font-style="normal" font-weight="normal" textLength="49.30" lengthAdjust="spacingAndGlyphs" ><tspan font-style="italic">UBA1</tspan> VAF (%)</text>
<text x="0" y="0" font-size="10.8" text-anchor="middle" fill="#3a3a3a" stroke="#3a3a3a" stroke-width="0.1" font-style="normal" textLength="75.90" lengthAdjust="spacingAndGlyphs" transform="translate(331.3,360.85) rotate(-90)">Typical CH other than</text>
<text x="0" y="0" font-size="10.8" text-anchor="middle" fill="#3a3a3a" stroke="#3a3a3a" stroke-width="0.1" font-style="normal" textLength="92.60" lengthAdjust="spacingAndGlyphs" transform="translate(342.9,360.2) rotate(-90)"><tspan font-style="italic">DNMT3A</tspan> and <tspan font-style="italic">TET2</tspan> VAF (%)</text>
</svg>
</body></html>
